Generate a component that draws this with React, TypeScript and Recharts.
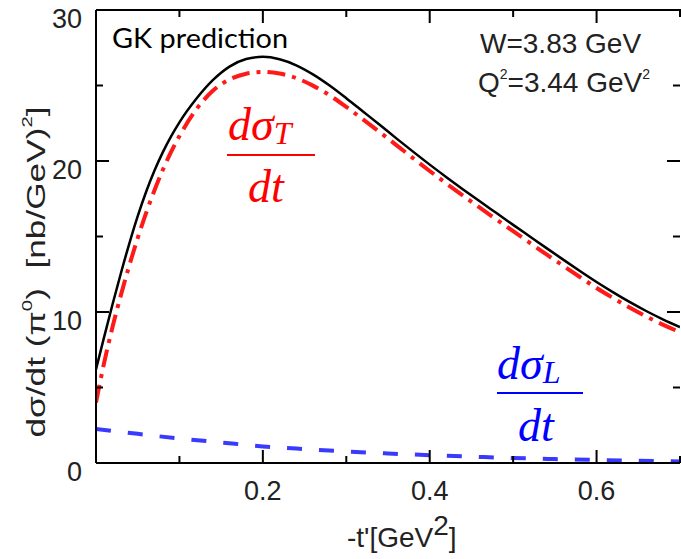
import React from 'react';
import { LineChart, Line, XAxis, YAxis } from 'recharts';

const tValues = [
  0, 0.01, 0.02, 0.03, 0.04, 0.05, 0.06, 0.07, 0.08, 0.09, 0.1,
  0.12, 0.14, 0.16, 0.18, 0.2, 0.22, 0.24, 0.26, 0.28, 0.3,
  0.32, 0.34, 0.36, 0.38, 0.4, 0.42, 0.44, 0.46, 0.48, 0.5,
  0.52, 0.54, 0.56, 0.58, 0.6, 0.62, 0.64, 0.66, 0.68, 0.7,
];

// total dσ/dt (black solid)
const totalXs = [
  6.2, 8.4, 10.55, 12.6, 14.55, 16.35, 17.95, 19.35, 20.57, 21.63, 22.56,
  24.1, 25.35, 26.25, 26.75, 26.9, 26.74, 26.34, 25.74, 25.0, 24.16,
  23.28, 22.4, 21.5, 20.62, 19.76, 18.93, 18.12, 17.33, 16.55, 15.77,
  15.0, 14.23, 13.47, 12.72, 11.99, 11.3, 10.65, 10.05, 9.5, 9.0,
];

// transverse dσT/dt (red dash-dot)
const transverseXs = [
  4.0, 6.7, 9.05, 11.15, 13.1, 14.9, 16.55, 18.05, 19.4, 20.6, 21.65,
  23.4, 24.65, 25.4, 25.78, 25.9, 25.79, 25.49, 24.99, 24.35, 23.58,
  22.76, 21.92, 21.05, 20.19, 19.34, 18.51, 17.7, 16.91, 16.13, 15.35,
  14.58, 13.81, 13.06, 12.32, 11.59, 10.92, 10.28, 9.69, 9.15, 8.66,
];

// longitudinal dσL/dt (blue dashed)
const longT = [0, 0.05, 0.1, 0.15, 0.2, 0.25, 0.3, 0.35, 0.4, 0.45, 0.5, 0.55, 0.6, 0.65, 0.7];
const longXs = [2.25, 1.93, 1.62, 1.36, 1.1, 0.92, 0.76, 0.63, 0.52, 0.42, 0.33, 0.26, 0.2, 0.15, 0.1];

const xTicks = [0, 0.1, 0.2, 0.3, 0.4, 0.5, 0.6, 0.7];
const xTickLabels = ['', '', '0.2', '', '0.4', '', '0.6', ''];
const yTicks = [0, 5, 10, 15, 20, 25, 30];
const yTickLabels = ['0', '', '10', '', '20', '', '30'];

const mainData = tValues.map((t, i) => ({ t, total: totalXs[i], trans: transverseXs[i] }));
const longData = longT.map((t, i) => ({ t, long: longXs[i] }));

const W = 681;
const H = 559;
const MARGIN_TOP = 10;
const X_AXIS_H = 96;
const Y_AXIS_W = 96;
const RIGHT_W = 1;
const PLOT_W = W - Y_AXIS_W - RIGHT_W;
const X_MAX = 0.7;

const sans = '"Liberation Sans", Arial, Helvetica, sans-serif';
const serif = '"Liberation Serif", "Times New Roman", serif';
const MAJOR = 13;
const MINOR = 7;

const BottomTick = (props: any) => {
  const { x, y, index } = props;
  const label = xTickLabels[index];
  const len = label ? MAJOR : MINOR;
  return (
    <g>
      <line x1={x} x2={x} y1={y} y2={y - len} stroke="#000" strokeWidth={2} />
      {label && (
        <text x={x} y={y + 37} textAnchor="middle" fontFamily={sans} fontSize={27} fill="#222">
          {label}
        </text>
      )}
    </g>
  );
};

const LeftTick = (props: any) => {
  const { x, y, index } = props;
  const label = yTickLabels[index];
  const len = label ? MAJOR : MINOR;
  return (
    <g>
      <line x1={x} x2={x + len} y1={y} y2={y} stroke="#000" strokeWidth={2} />
      <text x={x - 14} y={y + 18} textAnchor="end" fontFamily={sans} fontSize={27} fill="#222">
        {label}
      </text>
    </g>
  );
};

const RightTick = (props: any) => {
  const { x, y, index } = props;
  const len = yTickLabels[index] ? MAJOR : MINOR;
  return <line x1={x} x2={x - len} y1={y} y2={y} stroke="#000" strokeWidth={2} />;
};

// top frame of the box with its inward ticks
const TopFrame = () => (
  <g stroke="#000" strokeWidth={2}>
    <line x1={Y_AXIS_W} x2={W} y1={MARGIN_TOP} y2={MARGIN_TOP} />
    {xTicks.map((t, i) => {
      const x = Y_AXIS_W + (t / X_MAX) * PLOT_W;
      const len = xTickLabels[i] ? MAJOR : MINOR;
      return <line key={t} x1={x} x2={x} y1={MARGIN_TOP} y2={MARGIN_TOP + len} />;
    })}
  </g>
);

const Annotations = () => (
  <svg
    width={W}
    height={H}
    style={{ position: 'absolute', left: 0, top: 0, pointerEvents: 'none' }}
  >
    <TopFrame />
    <text
      x={112}
      y={48}
      fontFamily='Lato, "Open Sans", sans-serif'
      fontSize={26}
      fill="#000"
      textLength={176}
      lengthAdjust="spacingAndGlyphs"
    >
      GK prediction
    </text>
    <text x={480} y={53} fontFamily={sans} fontSize={28} fill="#222">
      W=3.83 GeV
    </text>
    <text x={478} y={92} fontFamily={sans} fontSize={28} fill="#222">
      Q<tspan fontSize={14} dy={-13}>2</tspan>
      <tspan dy={13}>=3.44 GeV</tspan>
      <tspan fontSize={14} dy={-13}>2</tspan>
    </text>

    {/* dσT/dt */}
    <g fill="#ff0000" fontFamily={serif} fontStyle="italic">
      <text x={228} y={140} fontSize={46}>
        dσ<tspan fontSize={32} dy={4}>T</tspan>
      </text>
      <line x1={227} x2={315} y1={155} y2={155} stroke="#ff0000" strokeWidth={2} />
      <text x={248} y={202} fontSize={46}>dt</text>
    </g>

    {/* dσL/dt */}
    <g fill="#0000ff" fontFamily={serif} fontStyle="italic">
      <text x={497} y={379} fontSize={46}>
        dσ<tspan fontSize={32} dy={4}>L</tspan>
      </text>
      <line x1={497} x2={583} y1={393} y2={393} stroke="#0000ff" strokeWidth={2} />
      <text x={518} y={441} fontSize={46}>dt</text>
    </g>

    <text
      transform="translate(45, 272) rotate(-90)"
      textAnchor="middle"
      fontFamily={sans}
      fontSize={26}
      fill="#222"
      textLength={331}
      lengthAdjust="spacingAndGlyphs"
      style={{ whiteSpace: 'pre' }}
    >
      dσ/dt (π<tspan fontSize={15} dy={-13}>0</tspan>
      <tspan dy={13}>)  [nb/GeV)</tspan>
      <tspan fontSize={15} dy={-13}>2</tspan>
      <tspan dy={13}>]</tspan>
    </text>

    <text x={347} y={547} fontFamily={sans} fontSize={28} fill="#222">
      -t'[GeV<tspan dy={-12}>2</tspan>
      <tspan dy={12}>]</tspan>
    </text>
  </svg>
);

export default function App() {
  return (
    <div style={{ position: 'absolute', left: 0, top: 0, width: W, height: H, background: '#fff' }}>
      <LineChart
        width={W}
        height={H}
        data={mainData}
        margin={{ top: MARGIN_TOP, right: 0, bottom: 0, left: 0 }}
      >
        <XAxis
          xAxisId="bottom"
          dataKey="t"
          type="number"
          domain={[0, X_MAX]}
          ticks={xTicks}
          interval={0}
          height={X_AXIS_H}
          tickSize={0}
          tickMargin={0}
          tickLine={false}
          axisLine={{ stroke: '#000', strokeWidth: 2 }}
          tick={<BottomTick />}
          allowDataOverflow
        />
        <YAxis
          yAxisId="left"
          type="number"
          domain={[0, 30]}
          ticks={yTicks}
          interval={0}
          width={Y_AXIS_W}
          tickSize={0}
          tickMargin={0}
          tickLine={false}
          axisLine={{ stroke: '#000', strokeWidth: 2 }}
          tick={<LeftTick />}
          allowDataOverflow
        />
        <YAxis
          yAxisId="right"
          orientation="right"
          type="number"
          domain={[0, 30]}
          ticks={yTicks}
          interval={0}
          width={RIGHT_W}
          tickSize={0}
          tickMargin={0}
          tickLine={false}
          axisLine={false}
          tick={<RightTick />}
          allowDataOverflow
        />
        <Line
          xAxisId="bottom"
          yAxisId="left"
          type="monotone"
          dataKey="long"
          data={longData}
          stroke="#3a3aff"
          strokeWidth={4}
          strokeDasharray="15 17"
          dot={false}
          activeDot={false}
          isAnimationActive={false}
        />
        <Line
          xAxisId="bottom"
          yAxisId="left"
          type="monotone"
          dataKey="trans"
          stroke="#ff1a1a"
          strokeWidth={4}
          strokeDasharray="18 7 4 7"
          dot={false}
          activeDot={false}
          isAnimationActive={false}
        />
        <Line
          xAxisId="bottom"
          yAxisId="left"
          type="monotone"
          dataKey="total"
          stroke="#000"
          strokeWidth={2.5}
          dot={false}
          activeDot={false}
          isAnimationActive={false}
        />
      </LineChart>
      <Annotations />
    </div>
  );
}
